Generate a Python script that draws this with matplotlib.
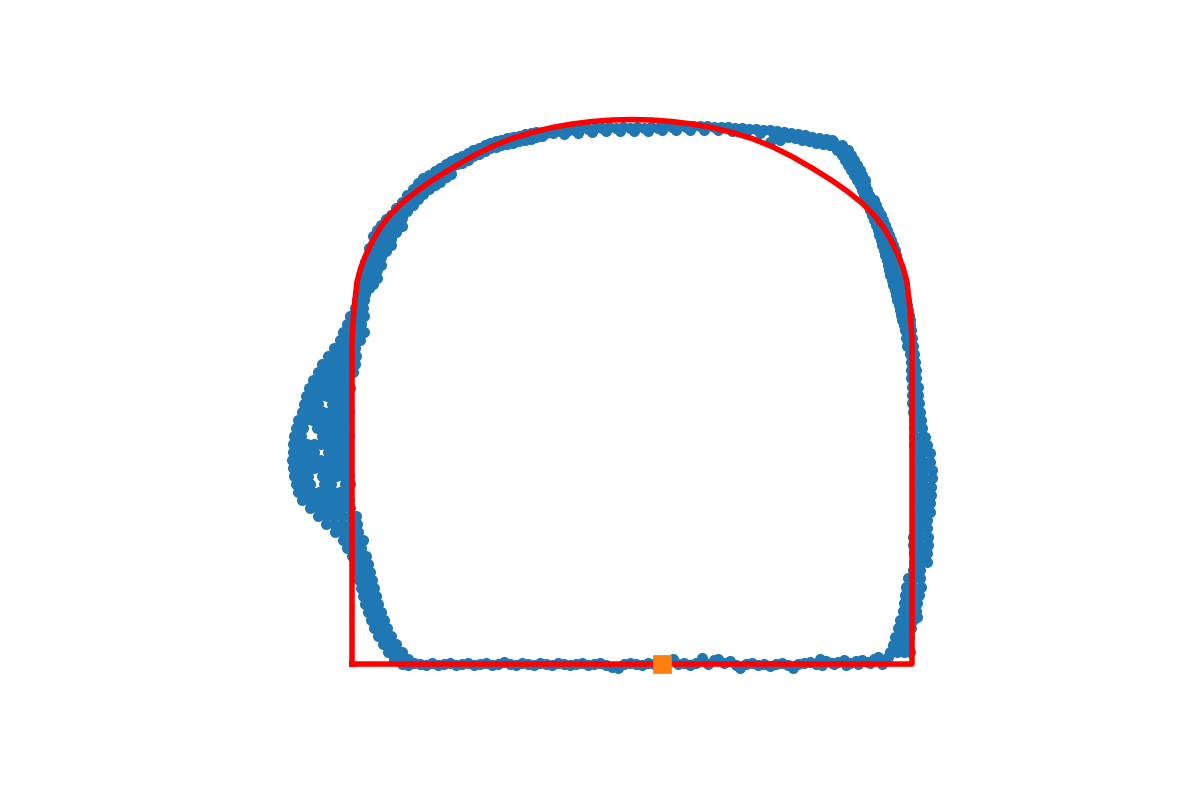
import numpy as np
import matplotlib.pyplot as plt

# scanned points of the tunnel section, cm (x across, y above floor)
floor_pts = [(-230, 0), (-224, -1), (-218, 1), (-212, 0), (-206, -1), (-200, 1), (-194, -1), (-188, 0),
             (-182, 1), (-176, -1), (-170, 0), (-164, 1), (-158, -1), (-152, 0), (-146, 1), (-140, -1),
             (-134, 0), (-128, 2), (-122, 0), (-116, -1), (-110, 1), (-104, 0), (-98, -1), (-92, 1),
             (-86, 0), (-80, -1), (-74, 1), (-68, 0), (-62, -1), (-56, 0), (-50, 1), (-44, -1), (-38, 0),
             (-32, 1), (-26, -1), (-20, -3), (-14, -4), (-8, 0), (-2, 1), (4, 0), (10, -1), (16, 1),
             (22, 0), (28, -1), (34, 1), (41, 5), (46, 0), (52, 1), (58, -1), (64, 1), (70, 6), (76, 0),
             (82, 4), (86, 5), (92, 1), (98, 3), (104, -1), (108, -4), (114, 0), (120, 1), (126, -1),
             (132, 0), (138, -2), (144, 0), (150, 1), (156, -1), (161, -4), (166, 0), (172, 1), (178, 2),
             (184, 0), (188, 5), (194, 3), (200, 1), (206, 2), (212, 4), (218, 1), (224, 3), (230, 4),
             (236, 2), (242, 5), (248, 3), (254, 4), (190, -1), (202, 0), (214, -1), (226, 0), (238, 1),
             (250, 0), (256, 7), (246, 7)]

left_pts = [(-238, 5), (-231, 5), (-224, 5), (-244, 12), (-237, 12), (-230, 12), (-249, 20), (-242, 20),
            (-236, 20), (-254, 28), (-247, 28), (-241, 28), (-258, 36), (-251, 36), (-245, 36),
            (-261, 44), (-254, 44), (-248, 44), (-264, 52), (-257, 52), (-251, 52), (-267, 60),
            (-260, 60), (-254, 60), (-269, 68), (-262, 68), (-256, 68), (-271, 76), (-264, 76),
            (-258, 76), (-273, 84), (-266, 84), (-260, 84), (-275, 92), (-268, 92), (-262, 92),
            (-277, 100), (-270, 100), (-264, 100), (-280, 108), (-273, 108), (-266, 108),
            (-285, 116), (-278, 116), (-271, 116), (-289, 124), (-282, 124), (-275, 124), (-269, 124),
            (-297, 132), (-289, 132), (-282, 132), (-274, 132),
            (-306, 140), (-298, 140), (-290, 140), (-282, 140), (-275, 140),
            (-314, 148), (-306, 148), (-298, 148), (-290, 148), (-282, 148), (-276, 148),
            (-322, 156), (-314, 156), (-307, 156), (-299, 156), (-291, 156), (-282, 156),
            (-330, 164), (-323, 164), (-316, 164), (-309, 164), (-302, 164), (-295, 164), (-288, 164),
            (-283, 164),
            (-334, 172), (-327, 172), (-320, 172), (-313, 172), (-306, 172), (-299, 172), (-292, 172),
            (-285, 172),
            (-336, 180), (-329, 180), (-322, 180), (-308, 180), (-301, 180), (-287, 180), (-282, 180),
            (-338, 188), (-331, 188), (-324, 188), (-310, 188), (-303, 188), (-296, 188), (-289, 188),
            (-283, 188),
            (-339, 196), (-332, 196), (-325, 196), (-318, 196), (-311, 196), (-304, 196), (-297, 196),
            (-290, 196), (-284, 196),
            (-340, 204), (-333, 204), (-326, 204), (-319, 204), (-312, 204), (-305, 204), (-298, 204),
            (-291, 204), (-284, 204),
            (-339, 212), (-332, 212), (-325, 212), (-318, 212), (-304, 212), (-297, 212), (-290, 212),
            (-284, 212),
            (-339, 220), (-332, 220), (-325, 220), (-318, 220), (-311, 220), (-304, 220), (-297, 220),
            (-290, 220), (-284, 220),
            (-338, 228), (-331, 228), (-310, 228), (-303, 228), (-296, 228), (-289, 228), (-283, 228),
            (-336, 236), (-329, 236), (-315, 236), (-308, 236), (-301, 236), (-294, 236), (-287, 236),
            (-334, 244), (-327, 244), (-320, 244), (-313, 244), (-306, 244), (-299, 244), (-292, 244),
            (-286, 244),
            (-330, 252), (-323, 252), (-316, 252), (-309, 252), (-302, 252), (-295, 252), (-288, 252),
            (-283, 252),
            (-328, 260), (-321, 260), (-314, 260), (-300, 260), (-293, 260), (-286, 260),
            (-326, 268), (-319, 268), (-312, 268), (-305, 268), (-298, 268), (-291, 268), (-285, 268),
            (-323, 276), (-316, 276), (-309, 276), (-302, 276), (-295, 276), (-288, 276), (-282, 276),
            (-319, 284), (-312, 284), (-305, 284), (-298, 284), (-291, 284), (-284, 284),
            (-314, 292), (-307, 292), (-300, 292), (-293, 292), (-286, 292), (-279, 292),
            (-310, 300), (-303, 300), (-296, 300), (-289, 300), (-282, 300), (-277, 300),
            (-304, 308), (-297, 308), (-290, 308), (-283, 308), (-276, 308),
            (-298, 316), (-291, 316), (-284, 316), (-277, 316),
            (-292, 324), (-285, 324), (-278, 324), (-272, 324),
            (-289, 332), (-282, 332), (-275, 332), (-268, 332),
            (-285, 340), (-278, 340), (-271, 340), (-282, 348), (-275, 348), (-268, 348),
            (-277, 356), (-269, 356), (-275, 364), (-268, 364)]

crown_pts = [(-271, 389), (-271, 381), (-271, 373),
             (-267, 402), (-267, 394), (-267, 386), (-267, 378), (-267, 370),
             (-263, 416), (-263, 408), (-263, 400), (-263, 392), (-263, 384), (-263, 376),
             (-259, 428), (-259, 420), (-259, 412), (-259, 404), (-259, 396), (-259, 388), (-259, 380),
             (-255, 434), (-255, 426), (-255, 418), (-255, 410), (-255, 402), (-255, 394), (-255, 386),
             (-251, 439), (-251, 431), (-251, 423), (-251, 415), (-251, 407), (-251, 399),
             (-246, 445), (-246, 437), (-246, 429), (-246, 421), (-246, 413),
             (-241, 449), (-241, 441), (-241, 433), (-241, 425), (-241, 419),
             (-236, 456), (-236, 448), (-236, 440), (-236, 432),
             (-230, 462), (-230, 454), (-230, 446), (-230, 438),
             (-225, 469), (-225, 461), (-225, 453), (-219, 475), (-219, 467), (-219, 459),
             (-214, 481), (-214, 473), (-214, 465), (-209, 486), (-209, 478), (-209, 470),
             (-203, 489), (-203, 481), (-203, 475), (-197, 493), (-197, 486), (-197, 479),
             (-192, 496), (-192, 489), (-192, 482), (-186, 500), (-186, 493), (-186, 487),
             (-181, 503), (-181, 496), (-181, 490),
             (-175, 506), (-175, 500), (-170, 508), (-170, 501), (-164, 511), (-164, 504),
             (-159, 514), (-159, 508), (-153, 516), (-153, 510), (-147, 519), (-147, 513),
             (-142, 521), (-142, 516), (-136, 523), (-136, 517), (-131, 524), (-131, 519),
             (-125, 526), (-125, 520), (-119, 527), (-119, 521), (-113, 528), (-113, 523),
             (-107, 530), (-107, 524), (-101, 531), (-101, 525), (-96, 532), (-96, 527),
             (-90, 532), (-90, 528),
             (-86, 531), (-79, 531), (-72, 533), (-65, 533), (-58, 534), (-51, 536), (-44, 535),
             (-37, 536), (-30, 536), (-23, 537), (-16, 536), (-9, 537), (-2, 536), (5, 537), (12, 536),
             (19, 537), (26, 536), (33, 538), (40, 537), (47, 538), (54, 537), (61, 538), (68, 538),
             (75, 538), (82, 537), (89, 537), (96, 537), (103, 536), (110, 536), (117, 535), (124, 535),
             (131, 534), (138, 534), (145, 533), (152, 532), (159, 531), (166, 530), (173, 529),
             (180, 527), (187, 526), (194, 525), (201, 523),
             (198, 519), (184, 521), (170, 524), (156, 527), (142, 529), (128, 531), (114, 532),
             (100, 533), (86, 534), (72, 534), (58, 534), (44, 534), (30, 534), (16, 533), (2, 533),
             (-12, 533), (-26, 533), (-40, 532), (-54, 531), (-68, 530), (148, 524), (138, 522),
             (191, 520), (177, 523), (163, 526)]

right_pts = [(193, 524), (200, 524), (198, 519), (204, 519), (210, 519), (205, 514), (211, 514),
             (216, 514), (210, 509), (215, 509), (219, 509), (213, 504), (218, 504), (222, 504),
             (216, 499), (221, 499), (225, 499), (219, 494), (224, 494), (228, 494), (222, 489),
             (227, 489), (230, 489), (225, 484), (230, 484), (233, 484), (228, 479), (233, 479),
             (230, 474), (235, 474), (232, 469), (237, 469), (234, 464), (239, 464), (242, 464),
             (236, 459), (241, 459), (244, 459), (238, 454), (243, 454), (246, 454), (240, 449),
             (245, 449), (249, 449), (242, 444), (247, 444), (251, 444), (244, 439), (249, 439),
             (253, 439), (246, 434), (251, 434), (255, 434), (247, 429), (253, 429), (257, 429),
             (249, 424), (255, 424), (259, 424), (250, 419), (256, 419), (261, 419), (252, 414),
             (258, 414), (263, 414), (253, 409), (259, 409), (264, 409), (255, 404), (260, 404),
             (265, 404), (256, 399), (262, 399), (266, 399), (257, 394), (263, 394), (267, 394),
             (258, 389), (264, 389), (268, 389), (260, 384), (265, 384), (269, 384), (261, 379),
             (267, 379), (270, 379), (263, 374), (268, 374), (272, 374), (264, 369), (269, 369),
             (273, 369), (265, 364), (270, 364), (274, 364), (267, 359), (272, 359), (275, 359),
             (268, 354), (273, 354), (276, 354), (269, 349), (274, 349), (277, 349), (270, 344),
             (275, 344), (278, 344), (272, 339), (276, 339), (278, 339),
             (273, 334), (279, 334), (274, 326), (280, 326), (275, 318), (281, 318), (278, 310),
             (282, 310), (279, 302), (283, 302), (279, 294), (284, 294), (279, 286), (284, 286),
             (280, 277), (286, 277), (280, 269), (286, 269), (280, 261), (287, 261), (281, 252),
             (288, 252), (282, 244), (289, 244), (282, 236), (290, 236), (282, 227), (289, 227),
             (293, 227), (282, 219), (289, 219), (295, 219), (283, 211), (290, 211), (298, 211),
             (284, 202), (291, 202), (298, 202), (285, 194), (292, 194), (300, 194), (285, 186),
             (292, 186), (300, 186), (285, 177), (292, 177), (299, 177), (285, 169), (292, 169),
             (299, 169), (284, 161), (291, 161), (298, 161), (284, 152), (291, 152), (298, 152),
             (283, 144), (290, 144), (295, 144), (283, 136), (290, 136), (295, 136), (281, 127),
             (288, 127), (296, 127), (281, 119), (288, 119), (296, 119), (282, 111), (289, 111),
             (295, 111), (282, 102), (289, 102), (295, 102), (281, 94), (288, 94), (276, 86),
             (281, 86), (288, 86), (274, 77), (281, 77), (289, 77), (273, 69), (280, 69), (287, 69),
             (272, 61), (279, 61), (285, 61), (271, 53), (278, 53), (284, 53), (285, 47), (268, 44),
             (275, 44), (281, 44), (266, 36), (273, 36), (279, 36), (263, 27), (270, 27), (277, 27),
             (261, 19), (268, 19), (275, 19), (258, 12), (265, 12), (272, 12), (278, 12)]

# fitted design profile
profile_x = [-280, -280, -278, -275, -271, -266, -260, -252, -242, -230, -215, -200, -180, -160, -140,
             -120, -100, -80, -60, -40, -20, 0, 20, 40, 60, 80, 100, 120, 140, 160, 180, 200, 215,
             230, 242, 252, 260, 266, 271, 275, 278, 280, 280, -280]
profile_y = [0, 325, 355, 382, 397, 409.5, 422, 436, 449, 461, 473, 483.5, 496, 507.5, 517.5,
             525.5, 531.5, 536.5, 540, 542.5, 544, 544.5, 544, 542.5, 540, 536.5, 531.5, 525.5, 517.5,
             507.5, 496, 483.5, 473, 461, 449, 436, 422, 409.5, 397, 382, 355, 325, 0, 0]

# scanner station
station_x = [30]
station_y = [0]

pts = np.array(floor_pts + left_pts + crown_pts + right_pts)

fig, ax = plt.subplots(figsize=(6, 4), dpi=199)
ax.plot(pts[:, 0], pts[:, 1], 'o', color='tab:blue', markersize=3)
ax.plot(profile_x, profile_y, color='red', linewidth=2)
ax.plot(station_x, station_y, 's', color='tab:orange')

ax.set_xlim(-482.75, 442.6)
ax.set_ylim(-44.4, 568.5)
ax.set_aspect('equal')
ax.axis('off')

fig.savefig('out.png')
